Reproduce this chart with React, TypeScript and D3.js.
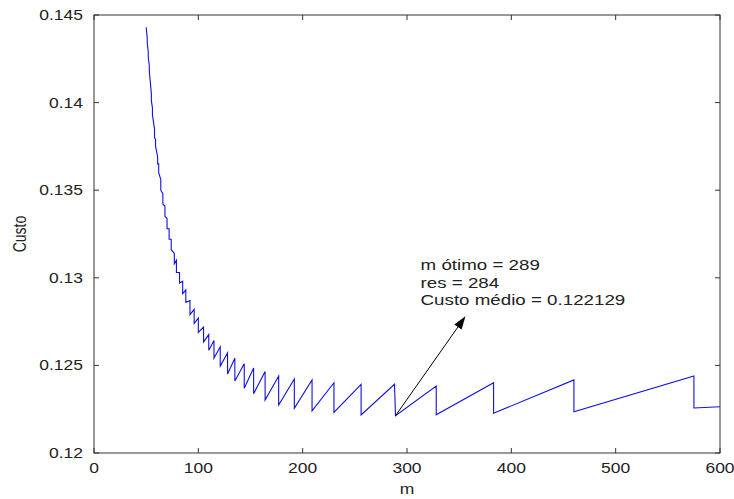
import React from "react";
import * as d3 from "d3";

// ---- data ----
const xTicks = [0, 100, 200, 300, 400, 500, 600];
const yTicks = [0.12, 0.125, 0.13, 0.135, 0.14, 0.145];
const yTickLabels = ["0.12", "0.125", "0.13", "0.135", "0.14", "0.145"];

// each "tooth" of the sawtooth: start m, end m, value at start, value at end
const toothStart = [50, 51, 52, 53, 55, 56, 58, 59, 61, 62, 64, 66, 68, 70, 72, 74, 77, 79, 82, 85, 88, 92, 96, 100, 105, 110, 115, 121, 128, 135, 144, 153, 164, 177, 192, 209, 230, 256, 289, 328, 383, 460, 575];
const toothEnd = [51, 52, 53, 55, 56, 58, 59, 61, 62, 64, 66, 68, 70, 72, 74, 77, 79, 82, 85, 88, 92, 96, 100, 105, 110, 115, 121, 128, 135, 144, 153, 164, 177, 192, 209, 230, 256, 288, 328, 383, 460, 575, 600];
const lowVal = [0.1443, 0.1434, 0.1426, 0.1418, 0.1401, 0.1393, 0.138, 0.1375, 0.1365, 0.136, 0.135, 0.1342, 0.1335, 0.1328, 0.1322, 0.1316, 0.1308, 0.1303, 0.1297, 0.1291, 0.1286, 0.1279, 0.1274, 0.12688, 0.12634, 0.12586, 0.12542, 0.12496, 0.12451, 0.12411, 0.12369, 0.12338, 0.12302, 0.12274, 0.12255, 0.1224, 0.12232, 0.12217, 0.122129, 0.12218, 0.12227, 0.12236, 0.12257];
const highVal = [0.1437, 0.1429, 0.1421, 0.1405, 0.1397, 0.1385, 0.1379, 0.1369, 0.1365, 0.1356, 0.1348, 0.1341, 0.1334, 0.1328, 0.1322, 0.1314, 0.131, 0.1303, 0.1298, 0.1293, 0.1287, 0.1282, 0.1277, 0.12719, 0.12676, 0.12642, 0.12606, 0.12571, 0.12541, 0.12509, 0.12485, 0.12465, 0.12439, 0.12422, 0.12417, 0.12401, 0.12392, 0.12392, 0.12382, 0.12401, 0.12417, 0.12439, 0.12264];

const annotationLines = ["m ótimo = 289", "res = 284", "Custo médio = 0.122129"];
const arrowFrom = [289, 0.122129];
const arrowTo = [356, 0.1278];
const textAnchorPoint = [313, 0.13044];

const W = 734, H = 499;
const L = 94, R = 720, T = 15, B = 453;
const FONT = "'Liberation Sans', Arial, sans-serif";
const SX = 1.25;

function SText({ x, y, size = 14, anchor = "start", children, rotate = 0 }: any) {
  return (
    <text
      transform={`translate(${x},${y}) scale(${SX},1)${rotate ? ` rotate(${rotate})` : ""}`}
      fontFamily={FONT}
      fontSize={size}
      textAnchor={anchor}
      fill="#222"
    >
      {children}
    </text>
  );
}

export default function App() {
  const x = d3.scaleLinear().domain([0, 600]).range([L, R]);
  const y = d3.scaleLinear().domain([0.12, 0.145]).range([B, T]);

  const pts: [number, number][] = [];
  toothStart.forEach((s, i) => {
    pts.push([s, lowVal[i]]);
    pts.push([toothEnd[i], highVal[i]]);
  });
  const line = d3
    .line<[number, number]>()
    .x((d) => x(d[0]))
    .y((d) => y(d[1]));

  const ax0 = x(arrowFrom[0]), ay0 = y(arrowFrom[1]);
  const ax1 = x(arrowTo[0]), ay1 = y(arrowTo[1]);
  const ang = Math.atan2(ay1 - ay0, ax1 - ax0);
  const hl = 13, hw = 4.5;
  const bx = ax1 - hl * Math.cos(ang), by = ay1 - hl * Math.sin(ang);
  const head = [
    [ax1, ay1],
    [bx + hw * Math.sin(ang), by - hw * Math.cos(ang)],
    [bx - hw * Math.sin(ang), by + hw * Math.cos(ang)],
  ];

  const tx = x(textAnchorPoint[0]), ty = y(textAnchorPoint[1]);
  const tick = 5;

  return (
    <svg
      width={W}
      height={H}
      style={{ position: "fixed", left: 0, top: 0, background: "#fff" }}
    >
      <rect x={0} y={0} width={W} height={H} fill="#fff" />
      <rect x={L} y={T} width={R - L} height={B - T} fill="#fff" />
      <path d={line(pts) || ""} fill="none" stroke="#1010e0" strokeWidth={1.1} />

      {/* arrow annotation */}
      <line x1={ax0} y1={ay0} x2={bx} y2={by} stroke="#000" strokeWidth={1} />
      <polygon points={head.map((p) => p.join(",")).join(" ")} fill="#000" />
      {annotationLines.map((t, i) => (
        <SText key={t} x={tx} y={ty + i * 17.5} size={15}>
          {t}
        </SText>
      ))}

      {/* axes box */}
      <rect x={L} y={T} width={R - L} height={B - T} fill="none" stroke="#333" strokeWidth={1} />
      {xTicks.map((v) => (
        <g key={"x" + v}>
          <line x1={x(v)} x2={x(v)} y1={B} y2={B - tick} stroke="#333" />
          <line x1={x(v)} x2={x(v)} y1={T} y2={T + tick} stroke="#333" />
          <SText x={x(v)} y={473} anchor="middle">
            {String(v)}
          </SText>
        </g>
      ))}
      {yTicks.map((v, i) => (
        <g key={"y" + v}>
          <line x1={L} x2={L + tick} y1={y(v)} y2={y(v)} stroke="#333" />
          <line x1={R} x2={R - tick} y1={y(v)} y2={y(v)} stroke="#333" />
          <SText x={83} y={y(v) + 5} anchor="end">
            {yTickLabels[i]}
          </SText>
        </g>
      ))}
      <SText x={(L + R) / 2} y={494} anchor="middle">
        m
      </SText>
      <SText x={26} y={(T + B) / 2} anchor="middle" rotate={-90}>
        Custo
      </SText>
    </svg>
  );
}
